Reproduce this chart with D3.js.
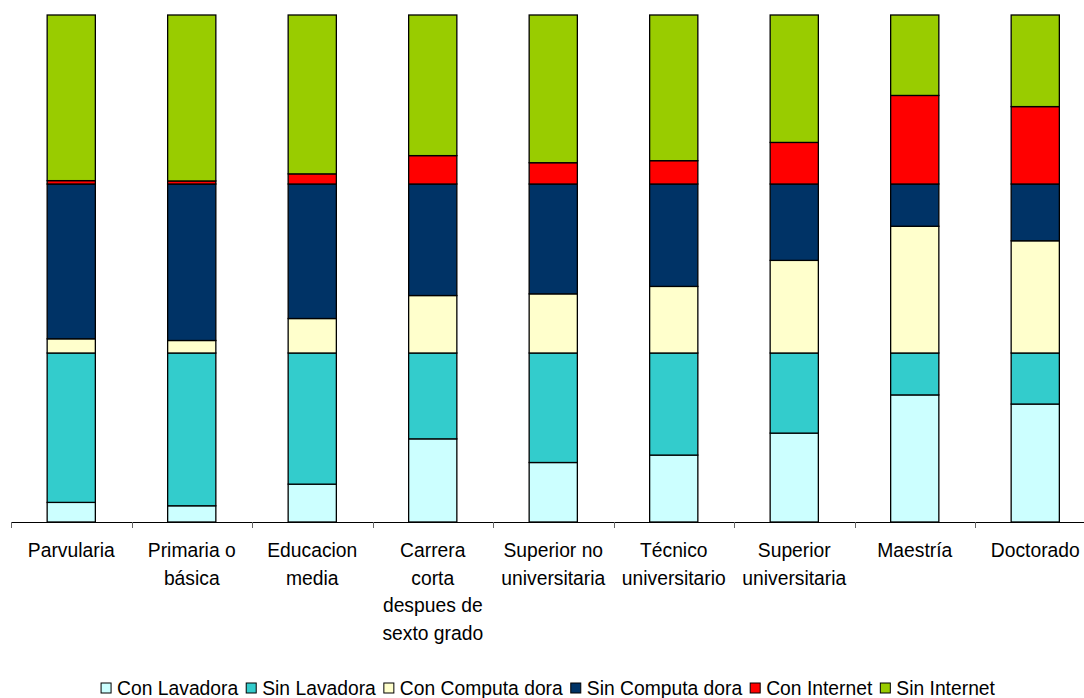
<!DOCTYPE html>
<html>
<head>
<meta charset="utf-8">
<script src="https://cdn.jsdelivr.net/npm/d3@7"></script>
<style>
  html, body { margin: 0; padding: 0; background: #fff; }
  svg { display: block; font-family: "Liberation Sans", Arial, sans-serif; }
</style>
</head>
<body>
<svg id="chart" width="1084" height="698"></svg>
<script>
// Education levels (line breaks mark where the axis labels wrap)
const categories = [
  "Parvularia",
  "Primaria o\nbásica",
  "Educacion\nmedia",
  "Carrera\ncorta\ndespues de\nsexto grado",
  "Superior no\nuniversitaria",
  "Técnico\nuniversitario",
  "Superior\nuniversitaria",
  "Maestría",
  "Doctorado"
];

// Percentages per household group (each pair sums to 100)
const conLavadora    = [11.6, 9.6, 22.4, 49.2, 35.2, 39.6, 52.6, 75.2, 69.8];
const sinLavadora    = [88.4, 90.4, 77.6, 50.8, 64.8, 60.4, 47.4, 24.8, 30.2];
const conComputadora = [8.4, 7.4, 20.4, 34.0, 35.0, 39.4, 54.8, 75.0, 66.4];
const sinComputadora = [91.6, 92.6, 79.6, 66.0, 65.0, 60.6, 45.2, 25.0, 33.6];
const conInternet    = [2.0, 1.8, 6.0, 16.8, 12.6, 13.8, 24.6, 52.4, 45.8];
const sinInternet    = [98.0, 98.2, 94.0, 83.2, 87.4, 86.2, 75.4, 47.6, 54.2];

const seriesNames  = ["Con Lavadora", "Sin Lavadora", "Con Computa dora", "Sin Computa dora", "Con Internet", "Sin Internet"];
const seriesValues = [conLavadora, sinLavadora, conComputadora, sinComputadora, conInternet, sinInternet];
const seriesColors = ["#CCFFFF", "#33CCCC", "#FFFFCC", "#003366", "#FF0000", "#99CC00"];

const svg = d3.select("#chart");

const plotLeft = 11, step = 120.5;
const plotBottom = 522, plotTop = 15;
const fontSize = 19.3;

const x = d3.scaleBand()
  .domain(categories)
  .range([plotLeft, plotLeft + step * categories.length])
  .paddingInner(0.6)
  .paddingOuter(0.3);

const y = d3.scaleLinear().domain([0, 300]).range([plotBottom, plotTop]);

// Build a row per category for the stack layout
const rows = categories.map((c, i) => {
  const r = { cat: c };
  seriesNames.forEach((s, j) => r[s] = seriesValues[j][i]);
  return r;
});
const stacked = d3.stack().keys(seriesNames)(rows);

// Bars
svg.append("g").selectAll("g")
  .data(stacked)
  .join("g")
  .attr("fill", (d, i) => seriesColors[i])
  .selectAll("rect")
  .data(d => d)
  .join("rect")
  .attr("x", d => x(d.data.cat))
  .attr("width", x.bandwidth())
  .attr("y", d => y(d[1]))
  .attr("height", d => y(d[0]) - y(d[1]))
  .attr("stroke", "#000")
  .attr("stroke-width", 1.3);

// Category axis: baseline plus ticks at the band boundaries
const axis = svg.append("g");
axis.append("line")
  .attr("x1", plotLeft).attr("x2", 1084)
  .attr("y1", plotBottom + 0.5).attr("y2", plotBottom + 0.5)
  .attr("stroke", "#000").attr("stroke-width", 1);
const boundaries = d3.range(categories.length + 1).map(i => plotLeft + i * x.step());
axis.selectAll(".tick")
  .data(boundaries)
  .join("line")
  .attr("x1", d => Math.round(d) + 0.5).attr("x2", d => Math.round(d) + 0.5)
  .attr("y1", plotBottom).attr("y2", plotBottom + 6)
  .attr("stroke", "#666").attr("stroke-width", 1);

// Category labels
const labels = axis.selectAll(".lbl")
  .data(categories)
  .join("text")
  .attr("text-anchor", "middle")
  .attr("font-size", fontSize)
  .attr("fill", "#000")
  .attr("transform", d => `translate(${x(d) + x.bandwidth() / 2},557)`);
labels.selectAll("tspan")
  .data(d => d.split("\n"))
  .join("tspan")
  .attr("x", 0)
  .attr("y", (d, i) => i * 27.5)
  .text(d => d);

// Legend
const legend = svg.append("g");
const items = legend.selectAll("g")
  .data(seriesNames)
  .join("g");
items.append("rect")
  .attr("width", 10).attr("height", 10)
  .attr("y", -12)
  .attr("fill", (d, i) => seriesColors[i])
  .attr("stroke", "#000").attr("stroke-width", 1);
items.append("text")
  .attr("x", 16)
  .attr("font-size", fontSize)
  .attr("fill", "#000")
  .text(d => d);

let cursor = 0;
const gap = 8;
items.each(function () {
  const w = d3.select(this).select("text").node().getComputedTextLength();
  d3.select(this).attr("transform", `translate(${cursor},0)`);
  cursor += 16 + w + gap;
});
const legendWidth = cursor - gap;
legend.attr("transform", `translate(${548 - legendWidth / 2},695)`);
</script>
</body>
</html>
